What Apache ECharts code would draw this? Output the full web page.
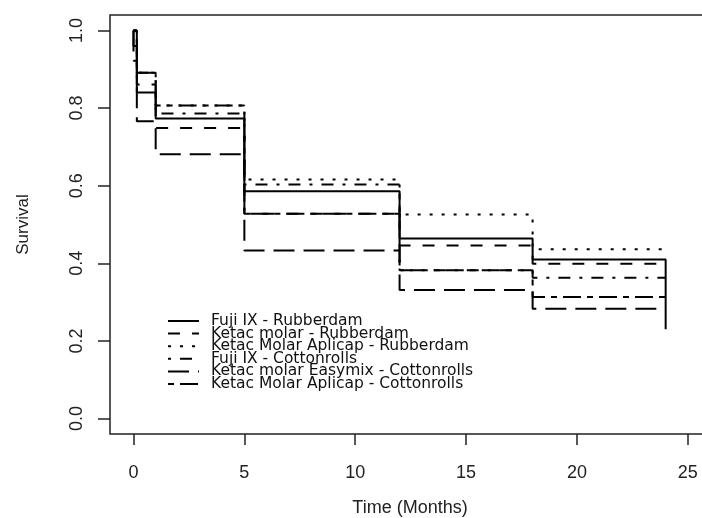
<!DOCTYPE html>
<html><head><meta charset="utf-8">
<script src="https://cdn.jsdelivr.net/npm/echarts@6/dist/echarts.min.js"></script>
<style>html,body{margin:0;padding:0;background:#fff}#c{width:702px;height:518px}</style>
</head><body><div id="c"></div>
<script>
// Series names (legend order)
const names = [
  'Fuji IX - Rubberdam',
  'Ketac molar - Rubberdam',
  'Ketac Molar Aplicap - Rubberdam',
  'Fuji IX - Cottonrolls',
  'Ketac molar Easymix - Cottonrolls',
  'Ketac Molar Aplicap - Cottonrolls'
];
// Kaplan-Meier step points: time (months) and survival
const tFujiRub   = [0, 0, 0.15, 1, 5, 12, 18, 24];
const sFujiRub   = [1.0, 0.96, 0.84, 0.773, 0.586, 0.464, 0.41, 0.23];
const tKetacRub  = [0, 0.15, 1, 5, 12, 18, 24];
const sKetacRub  = [1.0, 0.861, 0.749, 0.528, 0.446, 0.399, 0.399];
const tAplRub    = [0, 0.15, 1, 5, 12, 18, 24];
const sAplRub    = [1.0, 0.891, 0.807, 0.616, 0.526, 0.436, 0.436];
const tFujiCot   = [0, 0.15, 1, 5, 12, 18, 24];
const sFujiCot   = [1.0, 0.891, 0.786, 0.603, 0.382, 0.363, 0.363];
const tEasyCot   = [0, 0, 0.15, 1, 5, 12, 18, 24];
const sEasyCot   = [1.0, 0.922, 0.766, 0.681, 0.433, 0.331, 0.283, 0.283];
const tAplCot    = [0, 0.15, 1, 5, 12, 18, 24];
const sAplCot    = [1.0, 0.891, 0.807, 0.528, 0.382, 0.313, 0.313];
// Tick values
const xTicks = [0, 5, 10, 15, 20, 25];
const yTicks = [0, 0.2, 0.4, 0.6, 0.8, 1.0];

const times = [tFujiRub, tKetacRub, tAplRub, tFujiCot, tEasyCot, tAplCot];
const survs = [sFujiRub, sKetacRub, sAplRub, sFujiCot, sEasyCot, sAplCot];
const dashes = ['solid', [12, 12], [3, 9], [3, 9, 12, 9], [21, 9], [6, 6, 18, 6]];

const FONT = '"Liberation Sans", Arial, sans-serif';
const chart = echarts.init(document.getElementById('c'), null, {renderer: 'canvas'});
chart.setOption({
  animation: false,
  backgroundColor: '#fff',
  grid: {left: 110, top: 15, right: -8, bottom: 84, show: true, borderColor: '#222', borderWidth: 1.5,
    containLabel: false, outerBoundsMode: 'none'},
  legend: {
    orient: 'vertical', left: 167, top: 313, itemGap: -3.4, itemWidth: 31, itemHeight: 12, padding: 0,
    data: names,
    itemStyle: {opacity: 0},
    textStyle: {fontFamily: '"DejaVu Sans", sans-serif', fontSize: 15.5, color: '#111', padding: [0, 0, 0, 7]},
    inactiveColor: '#111'
  },
  xAxis: {
    type: 'value', min: -1.06, max: 26,
    name: 'Time (Months)', nameLocation: 'middle', nameGap: 65,
    nameTextStyle: {fontFamily: FONT, fontSize: 18, color: '#222'},
    axisLine: {show: false, onZero: false},
    axisTick: {show: true, inside: false, length: 11, customValues: xTicks, lineStyle: {color: '#222', width: 1.5}},
    axisLabel: {customValues: xTicks, margin: 30, fontFamily: FONT, fontSize: 18, color: '#222'},
    splitLine: {show: false}
  },
  yAxis: {
    type: 'value', min: -0.04, max: 1.04,
    name: 'Survival', nameLocation: 'middle', nameGap: 78, nameRotate: 90,
    nameTextStyle: {fontFamily: FONT, fontSize: 17, color: '#222'},
    axisLine: {show: false, onZero: false},
    axisTick: {show: true, length: 12, customValues: yTicks, lineStyle: {color: '#222', width: 1.5}},
    axisLabel: {customValues: yTicks, rotate: 90, margin: 24, fontFamily: FONT, fontSize: 18, color: '#222',
      formatter: v => v.toFixed(1)},
    splitLine: {show: false}
  },
  series: names.map((n, i) => ({
    name: n, type: 'line', step: 'end', symbol: 'none', silent: true,
    data: times[i].map((t, j) => [t, survs[i][j]]),
    lineStyle: {color: '#000', width: 2, type: dashes[i], cap: 'butt'},
    itemStyle: {color: '#000'}
  }))
});
</script></body></html>
